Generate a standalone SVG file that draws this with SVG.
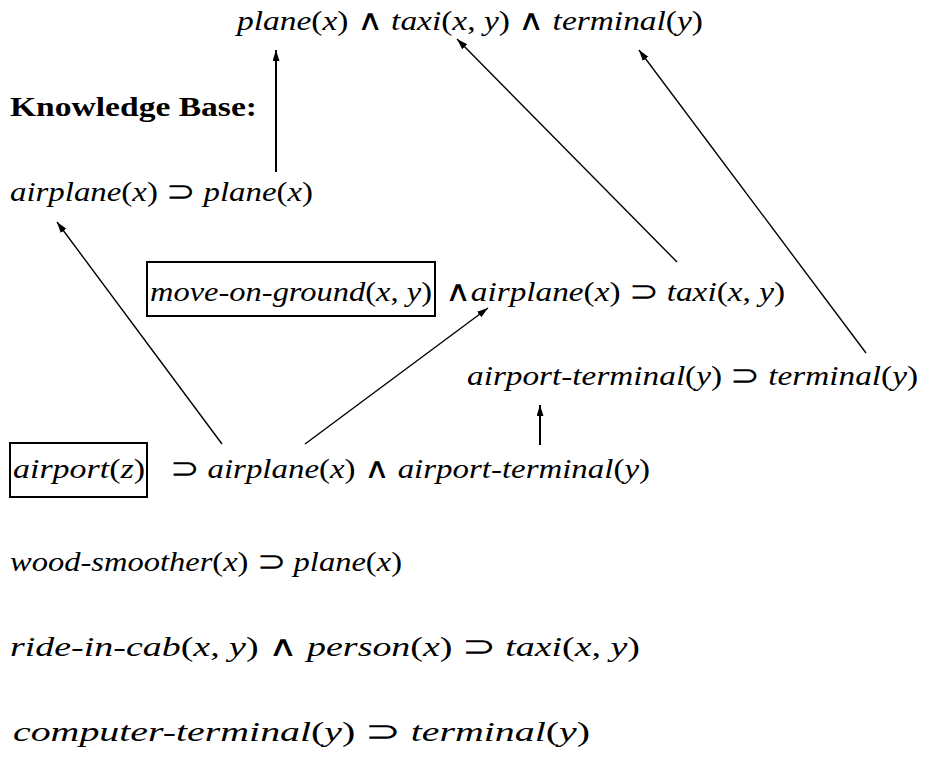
<svg xmlns="http://www.w3.org/2000/svg" width="925" height="761" viewBox="0 0 925 761">
<style>
text{font-family:"Liberation Serif","DejaVu Serif",serif;font-size:27px;fill:#000}
.i{font-style:italic}
.s{font-family:"DejaVu Sans",sans-serif;font-weight:200;font-size:29px}
.b{font-weight:bold;font-size:28px}
.box{fill:none;stroke:#000;stroke-width:2}
.c{stroke:#000;stroke-width:1.4;fill:none}
.t{stroke-width:2}
</style>
<defs>
<marker id="ah" markerUnits="userSpaceOnUse" markerWidth="12" markerHeight="8" refX="11" refY="3.5" orient="auto">
<path d="M0,0 L11,3.5 L0,7 z" fill="#000"/>
</marker>
</defs>
<rect width="925" height="761" fill="#fff"/>
<g id="goal">
<text x="237" y="30" textLength="466" lengthAdjust="spacingAndGlyphs"><tspan class="i">plane</tspan>(<tspan class="i">x</tspan>)  <tspan class="s">∧</tspan>  <tspan class="i">taxi</tspan>(<tspan class="i">x</tspan>, <tspan class="i">y</tspan>)  <tspan class="s">∧</tspan>  <tspan class="i">terminal</tspan>(<tspan class="i">y</tspan>)</text>
</g>
<g id="kb-title">
<text class="b" x="10" y="116" textLength="247" lengthAdjust="spacingAndGlyphs">Knowledge Base:</text>
</g>
<g id="rule-airplane">
<text x="10" y="201" textLength="303" lengthAdjust="spacingAndGlyphs"><tspan class="i">airplane</tspan>(<tspan class="i">x</tspan>)  <tspan class="s">⊃</tspan>  <tspan class="i">plane</tspan>(<tspan class="i">x</tspan>)</text>
</g>
<g id="rule-taxi">
<rect class="box" x="147" y="262" width="288" height="54"/>
<text x="150" y="301" textLength="282" lengthAdjust="spacingAndGlyphs"><tspan class="i">move-on-ground</tspan>(<tspan class="i">x</tspan>, <tspan class="i">y</tspan>)</text>
<text x="445" y="301" textLength="340" lengthAdjust="spacingAndGlyphs"><tspan class="s">∧</tspan><tspan class="i">airplane</tspan>(<tspan class="i">x</tspan>)  <tspan class="s">⊃</tspan>  <tspan class="i">taxi</tspan>(<tspan class="i">x</tspan>, <tspan class="i">y</tspan>)</text>
</g>
<g id="rule-airport-terminal">
<text x="467" y="385" textLength="451" lengthAdjust="spacingAndGlyphs"><tspan class="i">airport-terminal</tspan>(<tspan class="i">y</tspan>)  <tspan class="s">⊃</tspan>  <tspan class="i">terminal</tspan>(<tspan class="i">y</tspan>)</text>
</g>
<g id="rule-airport">
<rect class="box" x="10" y="443" width="137" height="54"/>
<text x="13" y="478" textLength="132" lengthAdjust="spacingAndGlyphs"><tspan class="i">airport</tspan>(<tspan class="i">z</tspan>)</text>
<text x="170" y="478" textLength="480" lengthAdjust="spacingAndGlyphs"><tspan class="s">⊃</tspan>  <tspan class="i">airplane</tspan>(<tspan class="i">x</tspan>)  <tspan class="s">∧</tspan>  <tspan class="i">airport-terminal</tspan>(<tspan class="i">y</tspan>)</text>
</g>
<g id="rule-wood">
<text x="10" y="571" textLength="392" lengthAdjust="spacingAndGlyphs"><tspan class="i">wood-smoother</tspan>(<tspan class="i">x</tspan>)  <tspan class="s">⊃</tspan>  <tspan class="i">plane</tspan>(<tspan class="i">x</tspan>)</text>
</g>
<g id="rule-cab">
<text x="10" y="656" textLength="630" lengthAdjust="spacingAndGlyphs"><tspan class="i">ride-in-cab</tspan>(<tspan class="i">x</tspan>, <tspan class="i">y</tspan>)  <tspan class="s">∧</tspan>  <tspan class="i">person</tspan>(<tspan class="i">x</tspan>)  <tspan class="s">⊃</tspan>  <tspan class="i">taxi</tspan>(<tspan class="i">x</tspan>, <tspan class="i">y</tspan>)</text>
</g>
<g id="rule-computer">
<text x="13" y="741" textLength="577" lengthAdjust="spacingAndGlyphs"><tspan class="i">computer-terminal</tspan>(<tspan class="i">y</tspan>)  <tspan class="s">⊃</tspan>  <tspan class="i">terminal</tspan>(<tspan class="i">y</tspan>)</text>
</g>
<g id="connectors">
<line class="c t" x1="276" y1="172" x2="276" y2="50" marker-end="url(#ah)"/>
<line class="c" x1="222" y1="444" x2="57" y2="222" marker-end="url(#ah)"/>
<line class="c" x1="305" y1="444" x2="488" y2="308" marker-end="url(#ah)"/>
<line class="c t" x1="540" y1="445" x2="540" y2="405" marker-end="url(#ah)"/>
<line class="c" x1="677" y1="262" x2="457" y2="39" marker-end="url(#ah)"/>
<line class="c" x1="866" y1="353" x2="639" y2="50" marker-end="url(#ah)"/>
</g>
</svg>
